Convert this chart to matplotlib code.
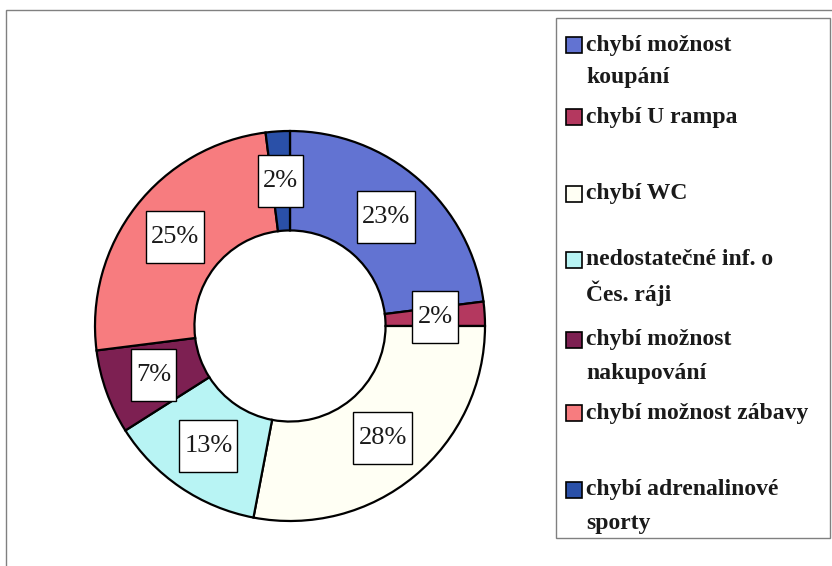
import matplotlib
matplotlib.use("Agg")
import matplotlib.pyplot as plt
from matplotlib.patches import Rectangle
import numpy as np

# ---- data ----
categories = [
    "chybí možnost\nkoupání",
    "chybí U rampa",
    "chybí WC",
    "nedostatečné inf. o\nČes. ráji",
    "chybí možnost\nnakupování",
    "chybí možnost zábavy",
    "chybí adrenalinové\nsporty",
]
values = [23, 2, 28, 13, 7, 25, 2]
pct_labels = ["23%", "2%", "28%", "13%", "7%", "25%", "2%"]
colors = ["#6273d2", "#b4385f", "#fffff4", "#b8f4f4", "#7d2052", "#f77c7f", "#2a50a8"]

W, H = 832, 566
fig = plt.figure(figsize=(W / 100, H / 100), dpi=100)
fig.patch.set_facecolor("white")

def fx(x):
    return x / W

def fy(y):
    return 1 - y / H

# outer frame (plot area border, partially outside the image)
fig.patches.append(Rectangle((fx(6), fy(640)), fx(900) - fx(6), fy(10) - fy(640),
                             transform=fig.transFigure, fill=False,
                             edgecolor="#808080", linewidth=1.0))

# donut
cx, cy, R = 290, 326, 195
ext = 200
ax = fig.add_axes([fx(cx - ext), fy(cy + ext), 2 * ext / W, 2 * ext / H])

wedges, _ = ax.pie(values, colors=colors, startangle=90, counterclock=False,
                   radius=1.0,
                   wedgeprops=dict(width=0.51, edgecolor="black", linewidth=1.6))
lim = ext / R
ax.set_xlim(-lim, lim)
ax.set_ylim(-lim, lim)
ax.set_aspect("equal")
ax.axis("off")

fig.canvas.draw()
renderer = fig.canvas.get_renderer()
label_r = 0.745
box_h_px = 52
for w, lab in zip(wedges, pct_labels):
    ang = np.deg2rad((w.theta1 + w.theta2) / 2)
    x, y = label_r * np.cos(ang), label_r * np.sin(ang)
    t = ax.text(x, y, lab, ha="center", va="center", fontsize=19,
                family="Liberation Serif", zorder=5, color="#1a1a1a")
    bb = t.get_window_extent(renderer=renderer)
    tw = bb.width
    scale = R  # px per data unit
    bw = (tw + 10) / scale
    bh = box_h_px / scale
    ax.add_patch(Rectangle((x - bw / 2, y - bh / 2), bw, bh, facecolor="white",
                           edgecolor="black", linewidth=1.0, zorder=4))

# legend box
lx0, ly0, lx1, ly1 = 556, 18, 830, 538
fig.patches.append(Rectangle((fx(lx0), fy(ly1)), fx(lx1) - fx(lx0), fy(ly0) - fy(ly1),
                             transform=fig.transFigure, facecolor="white",
                             edgecolor="#808080", linewidth=1.0))

entry_y = [45, 117, 194, 260, 340, 413, 490]
line_gap = 33
for cat, col, ey in zip(categories, colors, entry_y):
    fig.patches.append(Rectangle((fx(566), fy(ey + 8)), fx(582) - fx(566), fy(ey - 8) - fy(ey + 8),
                                 transform=fig.transFigure, facecolor=col,
                                 edgecolor="black", linewidth=1.2))
    for i, line in enumerate(cat.split("\n")):
        fig.text(fx(586), fy(ey + i * line_gap), line, ha="left", va="center",
                 fontsize=17, fontweight="bold", family="Liberation Serif",
                 color="#1a1a1a")

fig.savefig("out.png", dpi=100)
